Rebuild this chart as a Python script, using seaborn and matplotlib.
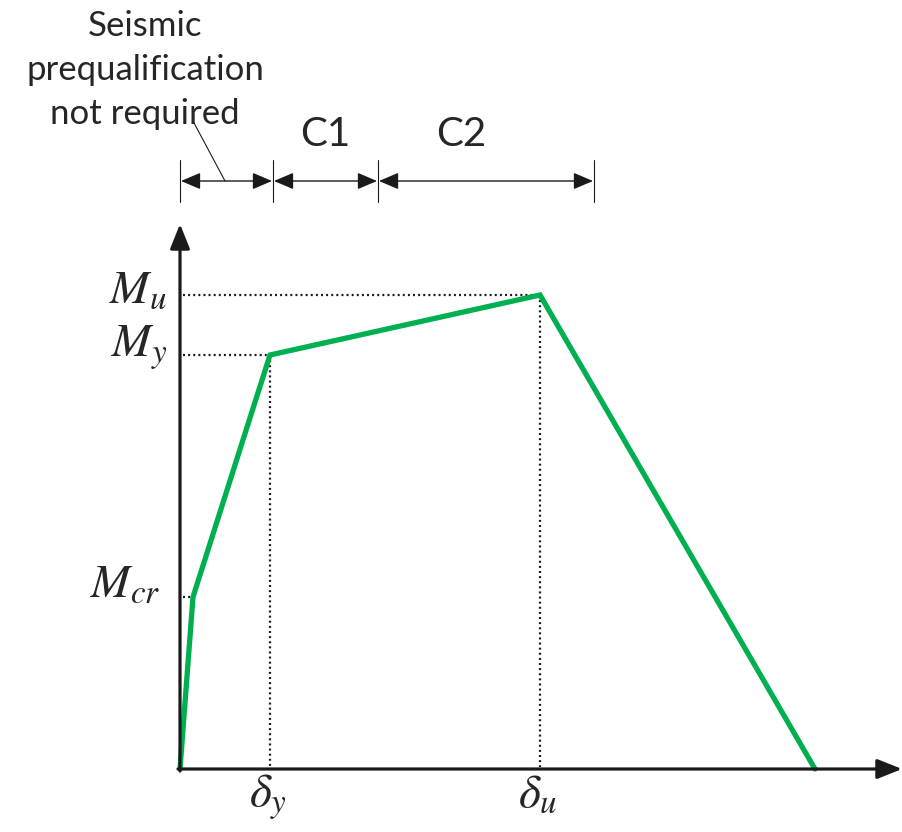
import matplotlib
matplotlib.use("Agg")
import matplotlib.pyplot as plt
import seaborn as sns
import pandas as pd

sns.set_style("white")
plt.rcParams["font.family"] = ["Lato", "DejaVu Sans"]
plt.rcParams["mathtext.fontset"] = "stix"

# Idealised moment-deformation envelope (arbitrary units)
deformation = [0, 13, 90, 360, 635]
moment = [0, 172, 414, 474, 0]

# Characteristic moment levels and their labels
moment_levels = [172, 414, 474]
moment_at = [13, 90, 360]
moment_labels = [r"$M_{cr}$", r"$M_{y}$", r"$M_{u}$"]

# Characteristic deformations
deformation_marks = [90, 360]
deformation_peaks = [414, 474]
deformation_labels = [r"$\delta_{y}$", r"$\delta_{u}$"]

# Deformation ranges shown above the plot
range_edges = [0, 93, 198, 414]
range_labels = ["C1", "C2"]
note_text = "Seismic\nprequalification\nnot required"

GREEN = "#00B050"
INK = "#1a1a1a"

curve = pd.DataFrame({"deformation": deformation, "moment": moment})

fig = plt.figure(figsize=(9.02, 8.32), dpi=100)
ax = fig.add_axes([0, 0, 1, 1])

# Dotted guide lines
dot = dict(color=INK, lw=1.6, linestyle=(0, (0.9, 1.4)), zorder=2)
for lvl, xa in zip(moment_levels, moment_at):
    ax.plot([3, xa], [lvl, lvl], **dot)
for xm, ym in zip(deformation_marks, deformation_peaks):
    ax.plot([xm, xm], [ym, 2], **dot)

# Envelope
sns.lineplot(data=curve, x="deformation", y="moment", color=GREEN,
             lw=3.8, sort=False, ax=ax, zorder=3, solid_joinstyle="miter",
             estimator=None)
ax.set_xlim(-180, 722)
ax.set_ylim(-63, 769)
ax.axis("off")

# Axes drawn as arrows
axis_arrow = dict(arrowstyle="-|>,head_length=0.75,head_width=0.3",
                  lw=2.3, color=INK, mutation_scale=20, shrinkA=0, shrinkB=0)
ax.annotate("", xy=(0, 545), xytext=(0, -2), arrowprops=axis_arrow,
            annotation_clip=False)
ax.annotate("", xy=(722, 0), xytext=(-2, 0), arrowprops=axis_arrow,
            annotation_clip=False)

# Moment labels
label_dx = [-20, -13, -13]
label_dy = [0, -2, -8]
for lvl, lab, dx, dy in zip(moment_levels, moment_labels, label_dx, label_dy):
    ax.text(dx, lvl + dy, lab, ha="right", va="baseline", fontsize=34)

# Deformation labels
for xm, lab in zip(deformation_marks, deformation_labels):
    ax.text(xm - 2, -38, lab, ha="center", va="baseline", fontsize=34)

# Range dimension lines
dim_y = 588
for xe in range_edges:
    ax.plot([xe, xe], [567, 609], color=INK, lw=0.8)
for x0, x1 in zip(range_edges[:-1], range_edges[1:]):
    ax.annotate("", xy=(x1 - 1, dim_y), xytext=(x0 + 1, dim_y),
                arrowprops=dict(arrowstyle="<|-|>,head_length=0.8,head_width=0.34",
                                lw=1.0, color=INK, mutation_scale=15,
                                shrinkA=0, shrinkB=0))
for xl, lab in zip([145, 281.5], range_labels):
    ax.text(xl, 635, lab, ha="center", va="center", fontsize=29)

# Note with leader line
ax.plot([13, 45], [648, 588], color=INK, lw=0.8)
ax.text(-35, 699, note_text, ha="center", va="center", fontsize=25,
        linespacing=1.45)

fig.savefig("out.png", dpi=100)
